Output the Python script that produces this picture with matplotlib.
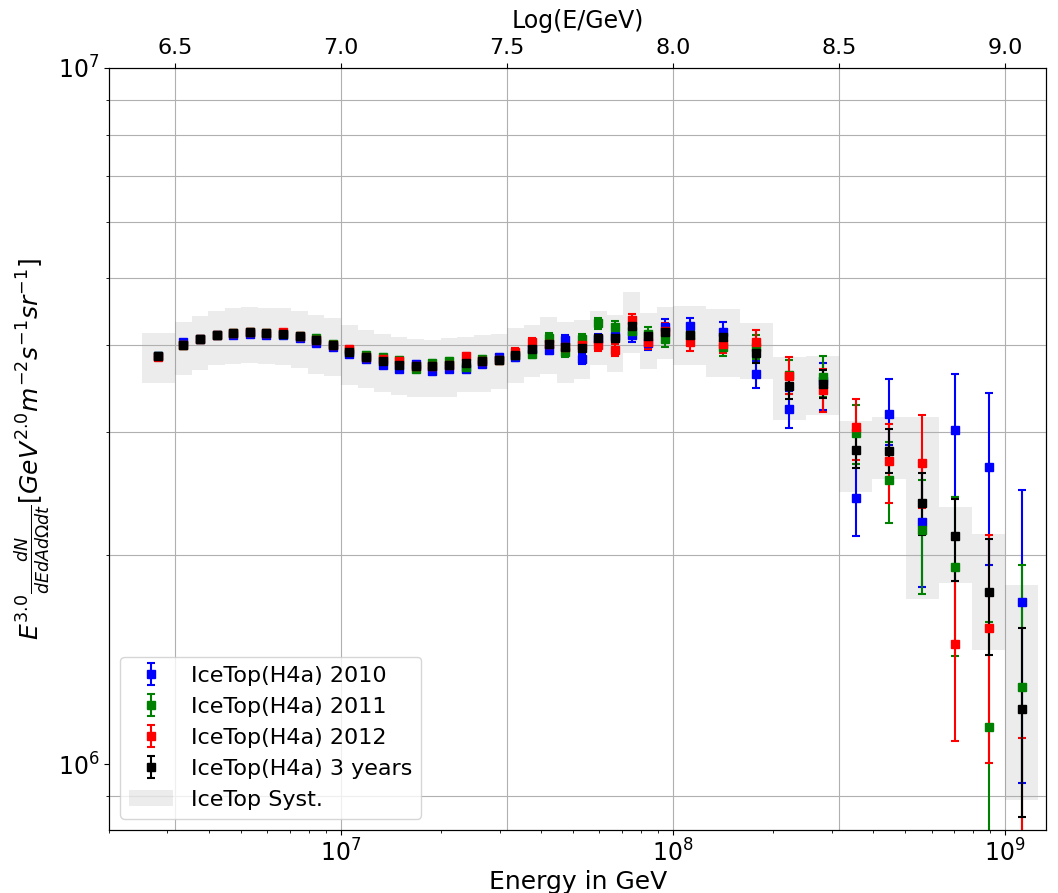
import numpy as np
import matplotlib.pyplot as plt
from matplotlib.ticker import NullFormatter, FormatStrFormatter, MultipleLocator

# bin edges in log10(E/GeV)
edges = [6.40, 6.50, 6.55, 6.60, 6.65, 6.70, 6.75, 6.80, 6.85, 6.90, 6.95,
         7.00, 7.05, 7.10, 7.15, 7.20, 7.25, 7.30, 7.35, 7.40, 7.45,
         7.50, 7.55, 7.60, 7.65, 7.70, 7.75, 7.80, 7.85, 7.90, 7.95,
         8.00, 8.10, 8.20, 8.30, 8.40, 8.50, 8.60, 8.70, 8.80, 8.90, 9.00, 9.10]

# flux * E^3 in units of 1e6
y2010 = [3.86, 4.04, 4.08, 4.13, 4.14, 4.15, 4.14, 4.14, 4.10, 4.03, 3.98, 3.88, 3.82, 3.74,
         3.70, 3.76, 3.67, 3.70, 3.70, 3.76, 3.84, 3.84, 3.95, 3.94, 4.07, 3.82, 4.08, 4.12,
         4.13, 4.03, 4.25, 4.26, 4.18, 3.63, 3.24, 3.55, 2.41, 3.18, 2.23, 3.02, 2.67, 1.71]
y2011 = [3.86, 4.00, 4.08, 4.14, 4.16, 4.17, 4.16, 4.15, 4.12, 4.10, 4.02, 3.94, 3.87, 3.84,
         3.81, 3.70, 3.77, 3.80, 3.72, 3.82, 3.81, 3.87, 3.88, 4.10, 3.91, 4.08, 4.30, 4.24,
         4.19, 4.15, 4.08, 4.14, 3.98, 3.98, 3.62, 3.60, 2.99, 2.56, 2.17, 1.92, 1.13, 1.29]
y2012 = [3.85, 4.00, 4.08, 4.14, 4.16, 4.18, 4.16, 4.17, 4.12, 4.07, 4.00, 3.95, 3.84, 3.82,
         3.79, 3.73, 3.73, 3.74, 3.86, 3.79, 3.81, 3.91, 4.04, 4.01, 3.98, 4.00, 4.00, 3.94,
         4.34, 4.04, 4.19, 4.04, 4.02, 4.04, 3.61, 3.45, 3.05, 2.73, 2.71, 1.49, 1.57, 0.60]
y3yr = [3.86, 4.00, 4.08, 4.14, 4.16, 4.17, 4.16, 4.15, 4.12, 4.07, 4.00, 3.91, 3.84, 3.79,
        3.74, 3.73, 3.73, 3.74, 3.77, 3.79, 3.81, 3.87, 3.95, 4.01, 3.98, 3.96, 4.10, 4.09,
        4.26, 4.12, 4.17, 4.14, 4.11, 3.89, 3.49, 3.52, 2.83, 2.82, 2.37, 2.13, 1.77, 1.20]

# stat errors in percent (up / down)
e2010_up = [0.8, 0.8, 0.8, 0.8, 0.8, 0.8, 0.8, 0.8, 0.8, 0.9, 0.9, 0.9, 0.9, 1.0, 1.0, 1.0, 1.0,
            1.0, 1.1, 1.1, 1.2, 1.2, 1.3, 1.4, 1.5, 1.6, 1.8, 2.0, 2.2, 2.4, 2.6, 2.8, 3.4,
            4.7, 5.9, 6.2, 12.0, 12.3, 21.0, 20.2, 28.0, 45.0]
e2010_dn = [0.8, 0.8, 0.8, 0.8, 0.8, 0.8, 0.8, 0.8, 0.8, 0.9, 0.9, 0.9, 0.9, 1.0, 1.0, 1.0, 1.0,
            1.0, 1.1, 1.1, 1.2, 1.2, 1.3, 1.4, 1.5, 1.6, 1.8, 2.0, 2.2, 2.4, 2.6, 2.8, 3.4,
            4.4, 6.2, 9.0, 11.6, 9.7, 19.3, 19.9, 27.7, 45.0]
e2011_up = [0.8, 0.8, 0.8, 0.8, 0.8, 0.8, 0.8, 0.8, 0.8, 0.9, 0.9, 0.9, 0.9, 1.0, 1.0, 1.0, 1.0,
            1.0, 1.1, 1.1, 1.2, 1.2, 1.3, 1.4, 1.5, 1.6, 1.8, 2.0, 2.2, 2.4, 2.6, 2.8, 3.2,
            4.0, 5.0, 7.2, 9.7, 13.3, 18.0, 26.0, 41.6, 50.0]
e2011_dn = [0.8, 0.8, 0.8, 0.8, 0.8, 0.8, 0.8, 0.8, 0.8, 0.9, 0.9, 0.9, 0.9, 1.0, 1.0, 1.0, 1.0,
            1.0, 1.1, 1.1, 1.2, 1.2, 1.3, 1.4, 1.5, 1.6, 1.8, 2.0, 2.2, 2.4, 2.6, 2.8, 3.2,
            4.0, 6.0, 6.4, 9.7, 13.3, 19.0, 25.5, 42.0, 50.0]
e2012_up = [0.8, 0.8, 0.8, 0.8, 0.8, 0.8, 0.8, 0.8, 0.8, 0.9, 0.9, 0.9, 0.9, 1.0, 1.0, 1.0, 1.0,
            1.0, 1.1, 1.1, 1.2, 1.2, 1.3, 1.4, 1.5, 1.6, 1.8, 2.0, 2.2, 2.4, 2.6, 2.8, 3.2,
            4.2, 6.4, 7.0, 9.8, 13.0, 17.0, 27.5, 36.0, 82.0]
e2012_dn = [0.8, 0.8, 0.8, 0.8, 0.8, 0.8, 0.8, 0.8, 0.8, 0.9, 0.9, 0.9, 0.9, 1.0, 1.0, 1.0, 1.0,
            1.0, 1.1, 1.1, 1.2, 1.2, 1.3, 1.4, 1.5, 1.6, 1.8, 2.0, 2.2, 2.4, 2.6, 2.8, 3.2,
            4.2, 5.8, 7.0, 10.2, 13.0, 14.0, 27.5, 36.0, 82.0]
e3yr_up = [0.5, 0.5, 0.5, 0.5, 0.5, 0.5, 0.5, 0.5, 0.5, 0.5, 0.5, 0.5, 0.5, 0.6, 0.6, 0.6, 0.6,
           0.6, 0.6, 0.7, 0.7, 0.7, 0.8, 0.8, 0.9, 0.9, 1.0, 1.1, 1.2, 1.3, 1.4, 1.5, 1.8,
           3.0, 4.0, 4.5, 4.5, 7.4, 10.5, 13.0, 19.0, 31.0]
e3yr_dn = [0.5, 0.5, 0.5, 0.5, 0.5, 0.5, 0.5, 0.5, 0.5, 0.5, 0.5, 0.5, 0.5, 0.6, 0.6, 0.6, 0.6,
           0.6, 0.6, 0.7, 0.7, 0.7, 0.8, 0.8, 0.9, 0.9, 1.0, 1.1, 1.2, 1.3, 1.4, 1.5, 1.8,
           3.0, 4.0, 4.5, 6.0, 7.1, 10.0, 14.0, 19.0, 30.0]

# systematic band (upper / lower), 1e6
syst_hi = [4.16, 4.32, 4.40, 4.47, 4.52, 4.53, 4.52, 4.52, 4.48, 4.42, 4.37, 4.27, 4.21, 4.15,
           4.11, 4.08, 4.07, 4.09, 4.11, 4.13, 4.15, 4.23, 4.27, 4.39, 4.32, 4.34, 4.47, 4.42,
           4.76, 4.44, 4.53, 4.55, 4.51, 4.30, 3.84, 3.86, 3.11, 3.15, 3.15, 2.34, 2.14, 1.81]
syst_lo = [3.53, 3.62, 3.68, 3.74, 3.76, 3.77, 3.76, 3.74, 3.71, 3.63, 3.61, 3.51, 3.47, 3.42,
           3.39, 3.37, 3.37, 3.37, 3.43, 3.43, 3.46, 3.53, 3.60, 3.64, 3.53, 3.58, 3.74, 3.66,
           3.89, 3.69, 3.82, 3.74, 3.60, 3.58, 3.12, 3.17, 2.46, 2.57, 1.73, 1.82, 1.46, 0.888]

series = [
    ("IceTop(H4a) 2010", "b", y2010, e2010_up, e2010_dn),
    ("IceTop(H4a) 2011", "g", y2011, e2011_up, e2011_dn),
    ("IceTop(H4a) 2012", "r", y2012, e2012_up, e2012_dn),
    ("IceTop(H4a) 3 years", "k", y3yr, e3yr_up, e3yr_dn),
]

edges = np.array(edges)
E = 10 ** ((edges[:-1] + edges[1:]) / 2)

fig = plt.figure(figsize=(10.58, 8.93), dpi=100)
ax = fig.add_axes([0.103, 0.0705, 0.886, 0.8535])
ax2 = ax.twiny()

# systematic boxes
for i in range(len(E)):
    ax.fill_between([10 ** edges[i], 10 ** edges[i + 1]], syst_lo[i] * 1e6, syst_hi[i] * 1e6,
                    color='0.5', alpha=0.15, lw=0, label='IceTop Syst.' if i == 0 else None)

handles = []
for name, c, y, up, dn in series:
    y = np.array(y) * 1e6
    yerr = [y * np.array(dn) / 100, y * np.array(up) / 100]
    h = ax.errorbar(E, y, yerr=yerr, fmt='s', color=c, ms=6, capsize=3,
                    elinewidth=1.5, capthick=1.5, label=name)
    handles.append(h)

ax.set_xscale('log')
ax.set_yscale('log')
ax.set_xlim(2.0e6, 1.33e9)
ax.set_ylim(8.05e5, 1e7)
ax.yaxis.set_minor_formatter(NullFormatter())
ax.xaxis.set_minor_formatter(NullFormatter())
ax.yaxis.grid(True, which='minor', color='#b0b0b0')
ax.tick_params(labelsize=17)
ax.set_xlabel('Energy in GeV', fontsize=18, labelpad=2)
ax.set_ylabel(r'$E^{3.0}\frac{dN}{dEdAd\Omega dt}[GeV^{2.0}m^{-2}s^{-1}sr^{-1}]$', fontsize=18)

# top axis in log10 units
ax2.set_xlim(np.log10(ax.get_xlim()))
ax2.xaxis.set_major_locator(MultipleLocator(0.5))
ax2.xaxis.set_major_formatter(FormatStrFormatter('%.1f'))
ax2.tick_params(labelsize=16)
ax2.set_xlabel('Log(E/GeV)', fontsize=17, labelpad=7)
ax2.grid(True, color='#b0b0b0')
ax.set_zorder(ax2.get_zorder() + 1)
ax.patch.set_visible(False)

h_sys = ax.get_legend_handles_labels()[0][0]
ax.legend(handles + [h_sys], [s[0] for s in series] + ['IceTop Syst.'],
          loc='lower left', fontsize=16)

fig.savefig('out.png', dpi=100)
